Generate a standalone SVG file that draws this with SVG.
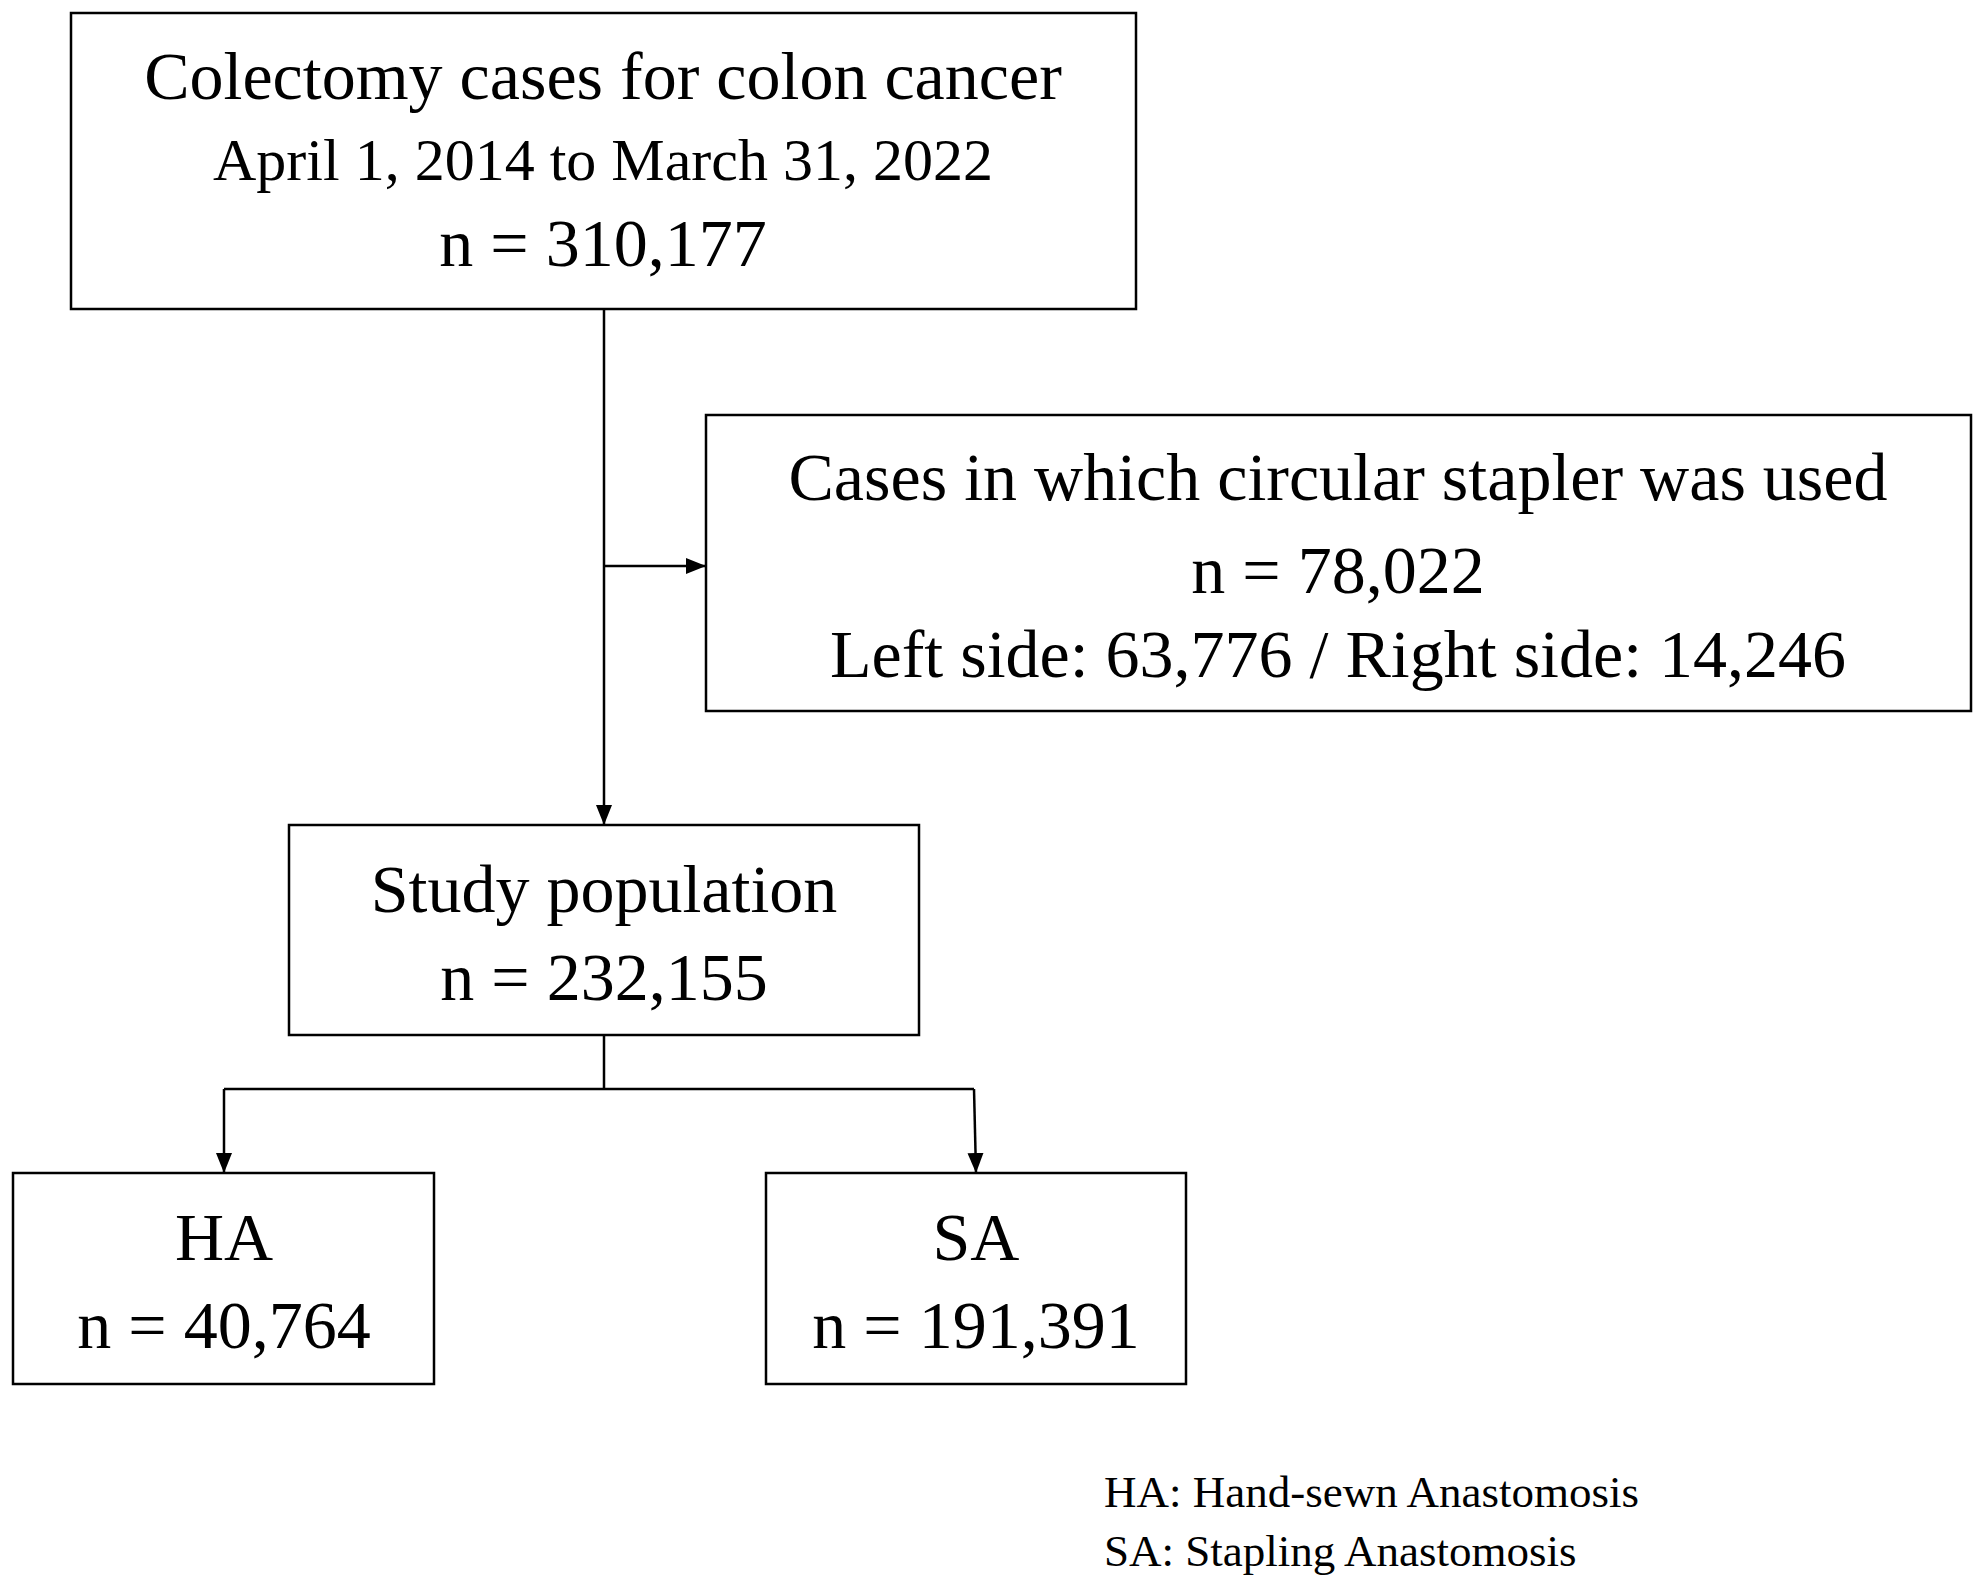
<svg xmlns="http://www.w3.org/2000/svg" width="1985" height="1593" viewBox="0 0 1985 1593">
<style>
rect{fill:#fff;stroke:#000;stroke-width:2.5}
text{font-family:"Liberation Serif",serif;fill:#000;text-anchor:middle;font-size:68px}
.s{font-size:60px}
.l{font-size:45px;text-anchor:start}
line{stroke:#000;stroke-width:2.5}
</style>
<defs><marker id="a" viewBox="0 0 10 10" refX="10" refY="5" markerWidth="8" markerHeight="8" markerUnits="userSpaceOnUse" orient="auto"><path d="M0,0L10,5L0,10z" fill="#000"/></marker>
<marker id="b" viewBox="0 0 10 10" refX="10" refY="5" markerWidth="20" markerHeight="20" markerUnits="userSpaceOnUse" orient="auto"><path d="M0,1L10,5L0,9z" fill="#000"/></marker></defs>
<rect x="0" y="0" width="1985" height="1593" style="stroke:none"/>
<g id="n1"><rect x="71" y="13" width="1065" height="296"/>
<text x="603" y="99">Colectomy cases for colon cancer</text>
<text x="603" y="180" class="s">April 1, 2014 to March 31, 2022</text>
<text x="603" y="266">n = 310,177</text></g>
<g id="n2"><rect x="706" y="415" width="1265" height="296"/>
<text x="1338" y="500">Cases in which circular stapler was used</text>
<text x="1338" y="593">n = 78,022</text>
<text x="1338" y="677">Left side: 63,776 / Right side: 14,246</text></g>
<g id="n3"><rect x="289" y="825" width="630" height="210"/>
<text x="604" y="912">Study population</text>
<text x="604" y="1000">n = 232,155</text></g>
<g id="n4"><rect x="13" y="1173" width="421" height="211"/>
<text x="224" y="1260">HA</text>
<text x="224" y="1348">n = 40,764</text></g>
<g id="n5"><rect x="766" y="1173" width="420" height="211"/>
<text x="976" y="1260">SA</text>
<text x="976" y="1348">n = 191,391</text></g>
<g id="legend"><text x="1104" y="1507" class="l">HA: Hand-sewn Anastomosis</text>
<text x="1104" y="1566" class="l">SA: Stapling Anastomosis</text></g>
<g id="connectors">
<line x1="604" y1="309" x2="604" y2="825" marker-end="url(#b)"/>
<line x1="604" y1="566" x2="706" y2="566" marker-end="url(#b)"/>
<line x1="604" y1="1035" x2="604" y2="1089"/>
<line x1="224" y1="1089" x2="974" y2="1089"/>
<line x1="224" y1="1089" x2="224" y2="1173" marker-end="url(#b)"/>
<line x1="974" y1="1089" x2="976" y2="1173" marker-end="url(#b)"/>
</g>
</svg>
